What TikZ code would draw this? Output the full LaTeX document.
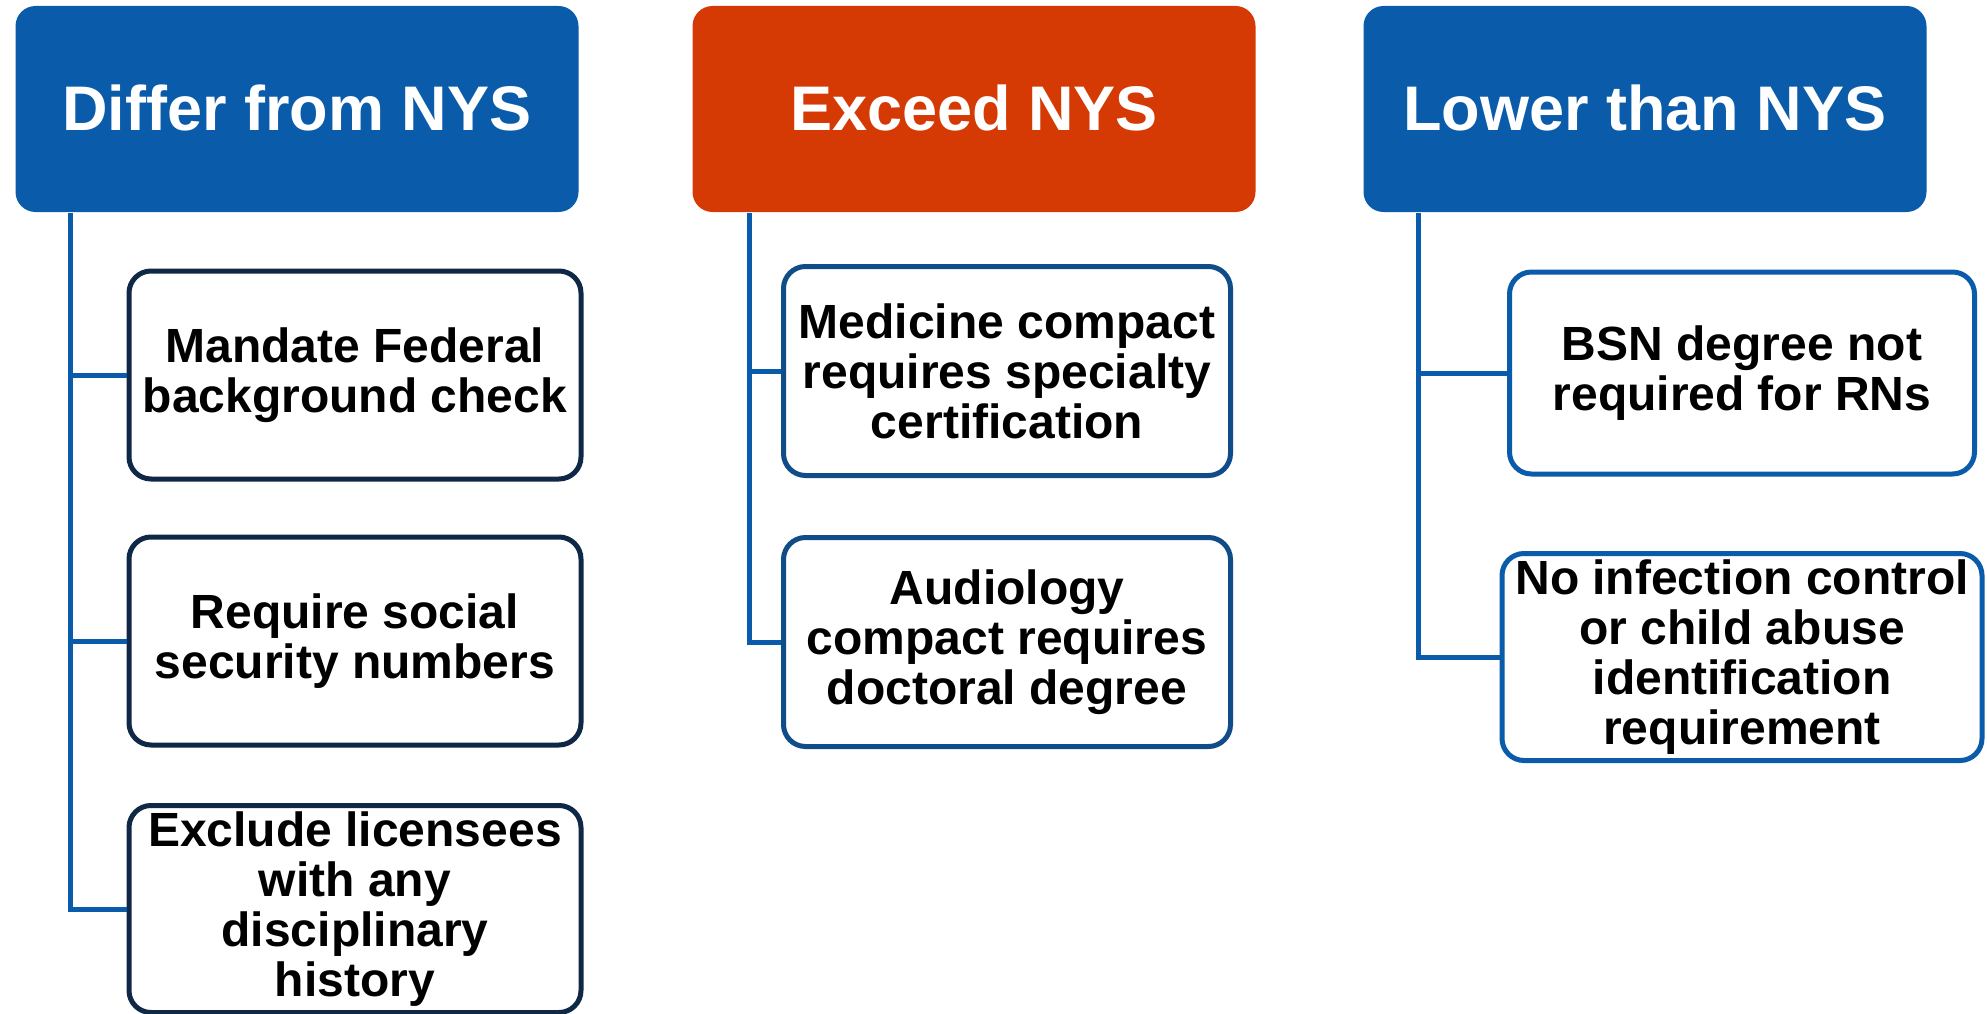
\documentclass[tikz,border=0pt]{standalone}
\usepackage{fontspec}
\setmainfont{Liberation Sans}
\definecolor{hblue}{RGB}{10,92,171}
\definecolor{horange}{RGB}{214,58,4}
\definecolor{navy}{RGB}{14,40,70}
\definecolor{midblue}{RGB}{16,76,136}
\begin{document}
\begin{tikzpicture}[x=1pt,y=-1pt,
  head/.style={rounded corners=20pt, minimum width=563pt, minimum height=206pt,
    text=white, font=\fontsize{63}{68}\selectfont\bfseries, inner sep=0pt},
  item/.style={draw, line width=5pt, rounded corners=22pt, fill=white, align=center,
    font=\fontsize{48}{50}\selectfont\bfseries, inner sep=0pt},
  conn/.style={draw=hblue, line width=5pt}]
\useasboundingbox (0,0) rectangle (1987,1014);

% headers
\node[head, fill=hblue]   (h1) at (297,109)  {\raisebox{3pt}{Differ from NYS}};
\node[head, fill=horange] (h2) at (974,109)  {\raisebox{3pt}{Exceed NYS}};
\node[head, fill=hblue]   (h3) at (1645,109) {\raisebox{3pt}{Lower than NYS}};

% trunk tops
\coordinate (t1) at (70,213);
\coordinate (t2) at (749,213);
\coordinate (t3) at (1418,213);

% column 1
\node[item, draw=navy, minimum width=452pt, minimum height=208pt] (b11) at (355,375)
  {Mandate Federal\\background check};
\node[item, draw=navy, minimum width=452pt, minimum height=208pt] (b12) at (355,641)
  {Require social\\security numbers};
\node[item, draw=navy, minimum width=452pt, minimum height=207pt] (b13) at (355,909)
  {Exclude licensees\\with any\\disciplinary\\history};

% column 2
\node[item, draw=midblue, minimum width=447pt, minimum height=209pt] (b21) at (1007,371)
  {Medicine compact\\requires specialty\\certification};
\node[item, draw=midblue, minimum width=447pt, minimum height=209pt] (b22) at (1007,642)
  {Audiology\\compact requires\\doctoral degree};

% column 3
\node[item, draw=hblue, minimum width=465pt, minimum height=202pt] (b31) at (1742,373)
  {BSN degree not\\required for RNs};
\node[item, draw=hblue, minimum width=480pt, minimum height=207pt] (b32) at (1742,657)
  {No infection control\\or child abuse\\identification\\requirement};

% connectors
\draw[conn] (t1) |- (b11.west);
\draw[conn] (t1) |- (b12.west);
\draw[conn] (t1) |- (b13.west);
\draw[conn] (t2) |- (b21.west);
\draw[conn] (t2) |- (b22.west);
\draw[conn] (t3) |- (b31.west);
\draw[conn] (t3) |- (b32.west);
\end{tikzpicture}
\end{document}
